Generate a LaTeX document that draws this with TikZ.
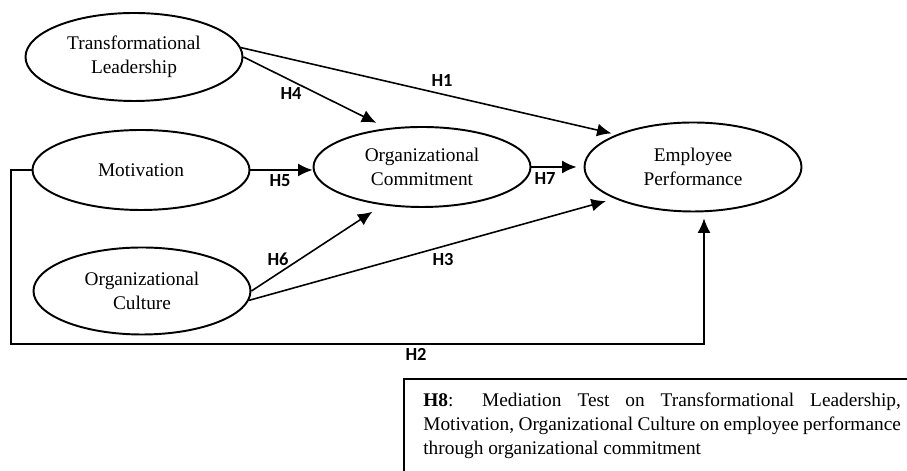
\documentclass[tikz,border=0pt]{standalone}
\usepackage{fontspec}
\setmainfont{Liberation Serif}
\newfontfamily\labelfont{Carlito}
\usetikzlibrary{shapes.geometric,arrows.meta}

\tikzset{
  construct/.style={draw,ellipse,line width=1.1pt,minimum width=4.34cm,minimum height=1.6cm,
    inner sep=0pt,align=center,font=\fontsize{11}{13.6}\selectfont},
  link/.style={line width=0.9pt,-{Latex[length=2.9mm,width=2.6mm]}},
  hyp/.style={font=\labelfont\bfseries\fontsize{10.5}{12}\selectfont,inner sep=1pt},
}

\begin{document}
\begin{tikzpicture}
  \useasboundingbox (0,0) rectangle (18.14,9.42);
  \clip (0,0) rectangle (18.14,9.42);

  % constructs
  \node[construct,minimum height=1.76cm] (tl) at (2.68,8.28) {Transformational\\Leadership};
  \node[construct] (mot) at (2.82,6.02) {Motivation};
  \node[construct,minimum height=1.74cm] (cul) at (2.84,3.60) {Organizational\\Culture};
  \node[construct] (com) at (8.44,6.08) {Organizational\\Commitment};
  \node[construct,minimum height=1.78cm] (ep) at (13.86,6.08) {Employee\\Performance};

  % hypotheses
  \draw[link,shorten >=0.1cm] (tl.5) -- (ep.157);
  \draw[link,shorten >=0.24cm] (tl.east) -- (com.132);
  \draw[link] (mot.east) -- (mot.east -| com.west);
  \draw[link,shorten >=0.14cm] (com.east) -- (ep.west);
  \draw[link,shorten >=0.24cm] (cul.east) -- (com.224);
  \draw[link,shorten >=0.18cm] (cul.-5) -- (ep.202);

  \coordinate (h2corner) at (0.22,2.54);
  \draw[link,line width=0.7pt,shorten >=0.12cm] (mot.west) -| (h2corner) -| ([xshift=0.22cm]ep.south);

  \node[hyp] (h1) at (8.84,7.80) {H1};
  \node[hyp] (h2) at (8.32,2.34) {H2};
  \node[hyp] (h3) at (8.86,4.22) {H3};
  \node[hyp] (h4) at (5.82,7.54) {H4};
  \node[hyp] (h5) at (5.60,5.80) {H5};
  \node[hyp] (h6) at (5.56,4.24) {H6};
  \node[hyp] (h7) at (10.90,5.84) {H7};

  % mediation note
  \node[anchor=north west,text width=9.55cm,inner xsep=0.38cm,inner ysep=0.28cm,align=justify,
    font=\fontsize{11}{13.6}\selectfont] (h8) at (8.08,1.84)
    {\textbf{H8}: Mediation Test on Transformational Leadership,\linebreak
     Motivation, Organizational Culture on employee performance\linebreak
     through organizational commitment};
  \draw[line width=0.8pt] (h8.north west) rectangle ++(10.5,-2.6);
\end{tikzpicture}
\end{document}
